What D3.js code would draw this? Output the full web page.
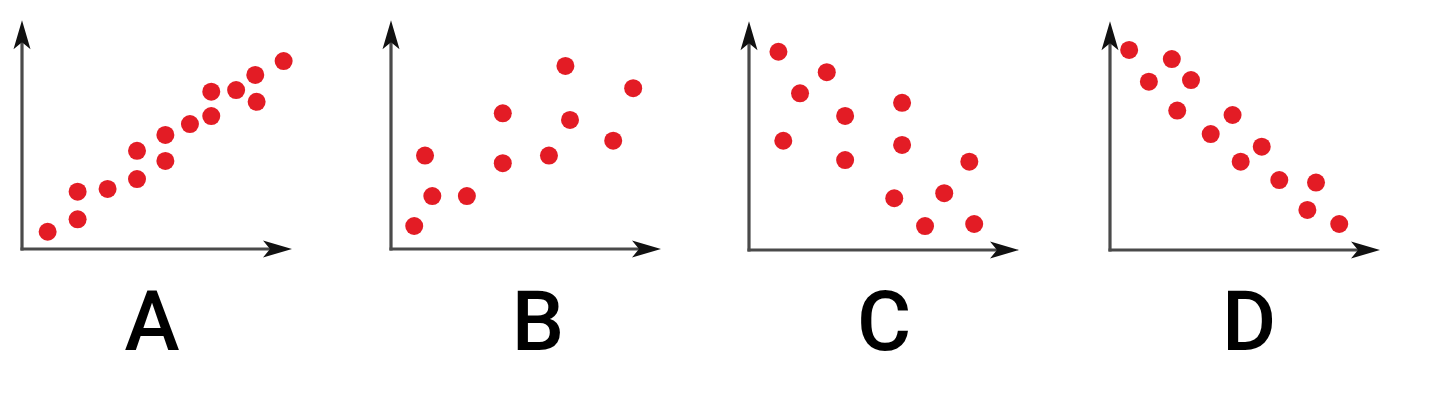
<!DOCTYPE html>
<html>
<head>
<meta charset="utf-8">
<script src="https://cdn.jsdelivr.net/npm/d3@7/dist/d3.min.js"></script>
<style>
  html, body { margin: 0; padding: 0; background: #fff; }
  svg { display: block; }
</style>
</head>
<body>
<svg id="chart" width="1440" height="400"></svg>
<script>
// ---- Data (abstract units 0..100 on each axis) ----
const panelLabels = ["A", "B", "C", "D"];

const aX = [9.5, 20.6, 20.6, 31.7, 42.6, 42.6, 53.1, 53.1, 62.2, 70.1, 70.1, 79.3, 86.9, 86.4, 96.9];
const aY = [7.5, 12.9, 24.9, 26.1, 30.4, 42.7, 38.3, 49.6, 54.3, 57.8, 68.4, 69.1, 64.0, 75.7, 81.7];

const bX = [8.6, 15.3, 12.6, 28.1, 41.4, 41.4, 58.5, 64.6, 66.3, 82.3, 89.7];
const bY = [10.0, 23.0, 40.6, 23.0, 37.3, 59.0, 40.6, 79.6, 56.1, 47.1, 69.9];

const cX = [10.9, 28.8, 18.9, 35.6, 12.7, 35.6, 56.7, 56.7, 81.6, 53.8, 72.3, 65.2, 83.4];
const cY = [86.2, 77.3, 68.1, 58.3, 47.5, 39.1, 64.0, 45.7, 38.4, 22.5, 24.7, 10.4, 11.3];

const dX = [7.1, 22.9, 14.4, 30.0, 24.9, 45.4, 37.3, 56.2, 48.4, 62.7, 76.3, 73.1, 84.9];
const dY = [87.0, 83.0, 73.2, 73.9, 60.6, 58.7, 50.4, 44.9, 38.4, 30.4, 29.3, 17.4, 11.3];

const seriesX = [aX, bX, cX, dX];
const seriesY = [aY, bY, cY, dY];

// ---- Layout ----
const panels = [
  { ox: 22,   oy: 249, labelX: 152 },
  { ox: 391,  oy: 249, labelX: 538 },
  { ox: 749,  oy: 250, labelX: 884 },
  { ox: 1110, oy: 250, labelX: 1249 }
];
const W = 270, H = 230;
const dotR = 9;
const dotColor = "#e31c25";

const svg = d3.select("#chart");

function arrowPath(tipX, tipY, dir) {
  const L = 29, hw = 8.5, notch = 7;
  if (dir === "up") {
    return `M${tipX},${tipY} L${tipX + hw},${tipY + L} L${tipX},${tipY + L - notch} L${tipX - hw},${tipY + L} Z`;
  }
  return `M${tipX},${tipY} L${tipX - L},${tipY - hw} L${tipX - L + notch},${tipY} L${tipX - L},${tipY + hw} Z`;
}

panels.forEach((p, i) => {
  const x = d3.scaleLinear().domain([0, 100]).range([p.ox, p.ox + W]);
  const y = d3.scaleLinear().domain([0, 100]).range([p.oy, p.oy - H]);
  const g = svg.append("g");

  g.append("line")
    .attr("x1", x(0)).attr("y1", y(0) + 1.5)
    .attr("x2", x(0)).attr("y2", y(96))
    .attr("stroke", "#4a4a4a").attr("stroke-width", 3.2);
  g.append("line")
    .attr("x1", x(0) - 1.5).attr("y1", y(0))
    .attr("x2", x(96)).attr("y2", y(0))
    .attr("stroke", "#4a4a4a").attr("stroke-width", 3.2);
  g.append("path").attr("d", arrowPath(x(0), y(99.5), "up")).attr("fill", "#111");
  g.append("path").attr("d", arrowPath(x(100), y(0), "right")).attr("fill", "#111");

  const data = seriesX[i].map((v, k) => ({ x: v, y: seriesY[i][k] }));
  g.selectAll("circle").data(data).join("circle")
    .attr("cx", d => x(d.x))
    .attr("cy", d => y(d.y))
    .attr("r", dotR)
    .attr("fill", dotColor);

  g.append("text")
    .attr("x", p.labelX).attr("y", 350)
    .attr("text-anchor", "middle")
    .attr("font-family", "Roboto, 'Noto Sans', sans-serif")
    .attr("font-weight", 500)
    .attr("font-size", 83)
    .attr("fill", "#000")
    .text(panelLabels[i]);
});
</script>
</body>
</html>
